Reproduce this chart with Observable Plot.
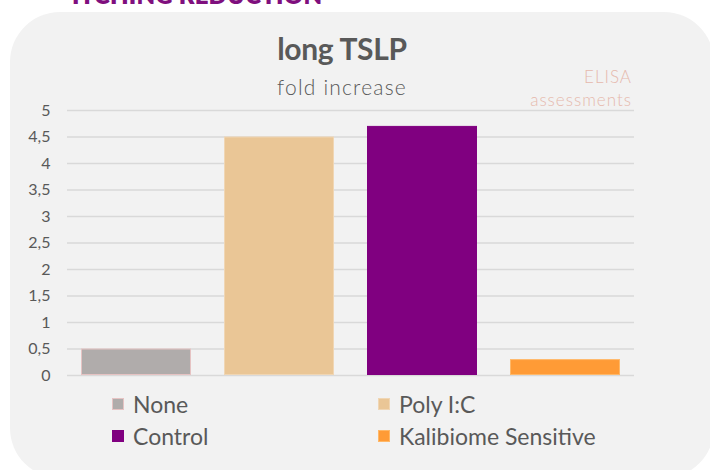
<!DOCTYPE html>
<html>
<head>
<meta charset="utf-8">
<script src="https://cdn.jsdelivr.net/npm/d3@7"></script>
<script src="https://cdn.jsdelivr.net/npm/@observablehq/plot@0.6"></script>
<style>
  html, body { margin: 0; padding: 0; background: #ffffff; }
  #wrap { position: relative; width: 710px; height: 470px; overflow: hidden; font-family: Lato, "Open Sans", sans-serif; }
  #panel { position: absolute; left: 10px; top: 12px; width: 704px; height: 466px; background: #f2f2f2; border-radius: 50px; }
  #top { position: absolute; left: 72px; top: -20px; font-size: 24px; font-weight: 800; color: #7f0f7e; white-space: nowrap; letter-spacing: 0.2px; }
  #title { position: absolute; left: 0; width: 684px; top: 30px; text-align: center; font-size: 30px; font-weight: 700; color: #595959; letter-spacing: -0.3px; }
  #sub { position: absolute; left: 0; width: 684px; top: 74px; text-align: center; font-size: 21px; font-weight: 300; color: #595959; letter-spacing: 1.2px; }
  #elisa { position: absolute; right: 78px; top: 65px; text-align: right; font-size: 17px; font-weight: 300; line-height: 23px; color: #e6b9ad; letter-spacing: 1px; }
  #chart { position: absolute; left: 0; top: 100px; }
  #legend { position: absolute; left: 0; top: 0; }
  .li { position: absolute; display: flex; align-items: center; font-size: 23px; color: #595959; white-space: nowrap; }
  .sw { width: 12px; height: 12px; margin-right: 9px; box-sizing: border-box; }
</style>
</head>
<body>
<div id="wrap">
  <div id="panel"></div>
  <div id="top">ITCHING REDUCTION</div>
  <div id="title">long TSLP</div>
  <div id="sub">fold increase</div>
  <div id="elisa">ELISA<br>assessments</div>
  <div id="chart"></div>
  <div id="legend"></div>
</div>
<script>
const categories = ["None", "Poly I:C", "Control", "Kalibiome Sensitive"];
const values = [0.5, 4.5, 4.7, 0.3];
const colors = ["#b0acab", "#eac696", "#800080", "#ff9b36"];
const strokes = ["#e6c3c3", "#f0d6b4", "#800080", "#ffb868"];
const yTicks = [0, 0.5, 1, 1.5, 2, 2.5, 3, 3.5, 4, 4.5, 5];

const data = categories.map((c, i) => ({category: c, value: values[i], color: colors[i], stroke: strokes[i]}));

const chart = Plot.plot({
  width: 710,
  height: 300,
  marginTop: 10,
  marginBottom: 25,
  marginLeft: 67,
  marginRight: 76,
  style: {background: "transparent", fontFamily: "Lato, sans-serif", fontSize: "16px", color: "#595959"},
  x: {domain: categories, paddingInner: 0.23, paddingOuter: 0.09, axis: null},
  y: {domain: [0, 5], ticks: yTicks, tickSize: 0, tickPadding: 17, label: null,
      tickFormat: d => String(d).replace(".", ",")},
  marks: [
    Plot.ruleY(yTicks, {stroke: "#d9d9d9", strokeWidth: 1.3}),
    Plot.barY(data, {x: "category", y: "value", fill: "color", stroke: "stroke", strokeWidth: 1, inset: 0.5})
  ]
});
document.getElementById("chart").appendChild(chart);

const legendPos = [[112, 390], [378, 390], [112, 422], [378, 422]];
const legend = document.getElementById("legend");
categories.forEach((c, i) => {
  const el = document.createElement("div");
  el.className = "li";
  el.style.left = legendPos[i][0] + "px";
  el.style.top = legendPos[i][1] + "px";
  el.innerHTML = `<div class="sw" style="background:${colors[i]};border:1px solid ${strokes[i]}"></div><span>${c}</span>`;
  legend.appendChild(el);
});
</script>
</body>
</html>
